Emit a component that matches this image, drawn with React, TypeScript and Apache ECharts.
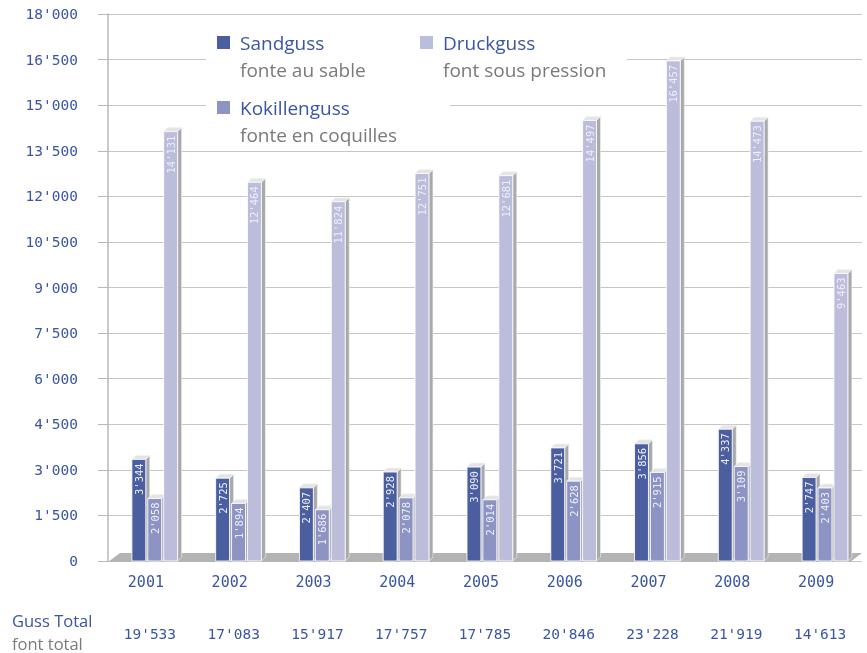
import React, { useEffect, useRef } from "react";
import * as echarts from "echarts";

const years = ["2001", "2002", "2003", "2004", "2005", "2006", "2007", "2008", "2009"];
const sandguss = [3344, 2725, 2407, 2928, 3090, 3721, 3856, 4337, 2747];
const kokillenguss = [2058, 1894, 1686, 2078, 2014, 2628, 2915, 3109, 2403];
const druckguss = [14131, 12464, 11824, 12751, 12681, 14497, 16457, 14473, 9463];

const seriesNames = ["Sandguss", "Kokillenguss", "Druckguss"];
const seriesSub = ["fonte au sable", "fonte en coquilles", "font sous pression"];
const colors = ["#4b5e9f", "#8d93c2", "#bbbddb"];

const fmt = (n: number) => String(n).replace(/\B(?=(\d{3})+(?!\d))/g, "'");

const BLUE = "#3a55a2";
const GREY_TXT = "#7a7a7a";
const DIGI = "'DejaVu Sans Mono', monospace";
const SANS = "'Open Sans', 'Noto Sans', sans-serif";

const G_LEFT = 108;
const G_RIGHT = 5;
const G_TOP = 14;
const G_BOTTOM = 92;

export default function App() {
  const ref = useRef<HTMLDivElement>(null);
  useEffect(() => {
    if (!ref.current) return;
    const chart = echarts.init(ref.current, null, { renderer: "svg" });
    const totals = years.map((_, i) => fmt(sandguss[i] + kokillenguss[i] + druckguss[i]));
    const all = [sandguss, kokillenguss, druckguss];

    const makeSeries = (idx: number) => ({
      type: "custom",
      name: seriesNames[idx],
      z: 10,
      data: all[idx].map((v, i) => [i, v]),
      encode: { x: 0, y: 1 },
      renderItem: (params: any, api: any) => {
        const cat = api.value(0);
        const val = api.value(1);
        const base = api.coord([cat, 0]);
        const top = api.coord([cat, val]);
        const catW = api.size([1, 0])[0];
        const pitch = catW * 0.19;
        const w = pitch - 2;
        const d = 4;
        const left = base[0] - catW * 0.215 + idx * pitch;
        const right = left + w;
        const y0 = top[1];
        const y1 = base[1];
        return {
          type: "group",
          children: [
            {
              type: "polygon",
              shape: { points: [[right, y0], [right + d, y0 - d], [right + d, y1 - d], [right, y1]] },
              style: { fill: "#a9a9a9", stroke: "#f4f4f4", lineWidth: 0.6 },
            },
            {
              type: "polygon",
              shape: { points: [[left, y0], [left + d, y0 - d], [right + d, y0 - d], [right, y0]] },
              style: { fill: "#e4e4e4", stroke: "#f4f4f4", lineWidth: 0.6 },
            },
            {
              type: "rect",
              shape: { x: left, y: y0, width: w, height: y1 - y0 },
              style: { fill: colors[idx], stroke: "rgba(255,255,255,0.85)", lineWidth: 1 },
            },
            {
              type: "text",
              x: left + w / 2,
              y: y0 + 4,
              rotation: Math.PI / 2,
              style: {
                text: fmt(val),
                fill: "#eef0f8",
                fontSize: 10.5,
                fontFamily: DIGI,
                align: "right",
                verticalAlign: "middle",
              },
            },
          ],
        };
      },
    });

    const legendItems: any[] = [];
    const pos = [
      [217, 43],
      [217, 108],
      [420, 43],
    ];
    pos.forEach((p, i) => {
      legendItems.push(
        { type: "rect", shape: { x: p[0], y: p[1] - 7, width: 13, height: 13 }, style: { fill: colors[i] }, z: 6 },
        {
          type: "text",
          x: p[0] + 23,
          y: p[1],
          style: { text: seriesNames[i], fill: BLUE, fontSize: 19, fontFamily: SANS, verticalAlign: "middle" },
          z: 6,
        },
        {
          type: "text",
          x: p[0] + 23,
          y: p[1] + 27,
          style: { text: seriesSub[i], fill: GREY_TXT, fontSize: 19, fontFamily: SANS, verticalAlign: "middle" },
          z: 6,
        }
      );
    });

    const floorY = 653 - G_BOTTOM;
    const floorRight = 867 - G_RIGHT;

    chart.setOption({
      animation: false,
      grid: { left: G_LEFT, right: G_RIGHT, top: G_TOP, bottom: G_BOTTOM },
      xAxis: [
        {
          type: "category",
          data: years,
          axisLine: { show: false },
          axisTick: { show: false },
          axisLabel: { color: BLUE, fontFamily: DIGI, fontSize: 15, margin: 13, padding: [0, 8, 0, 0] },
        },
        {
          type: "category",
          position: "bottom",
          offset: 52,
          data: totals,
          axisLine: { show: false },
          axisTick: { show: false },
          axisLabel: { color: BLUE, fontFamily: DIGI, fontSize: 14.5, margin: 13 },
        },
      ],
      yAxis: {
        type: "value",
        min: 0,
        max: 18000,
        interval: 1500,
        axisLine: { show: true, lineStyle: { color: "#b9b9b9", width: 1.5 } },
        axisTick: { show: true, length: 10, lineStyle: { color: "#b9b9b9" } },
        splitLine: { lineStyle: { color: "#c6c6c6", width: 1 } },
        axisLabel: { color: BLUE, fontFamily: DIGI, fontSize: 14.5, margin: 30, formatter: (v: number) => fmt(v) },
      },
      graphic: [
        {
          type: "polygon",
          z: 3,
          shape: {
            points: [
              [G_LEFT, floorY + 1],
              [floorRight - 12, floorY + 1],
              [floorRight, floorY - 8],
              [G_LEFT + 12, floorY - 8],
            ],
          },
          style: { fill: "#b3b3b3" },
        },
        { type: "rect", z: 5, shape: { x: 206, y: 28, width: 421, height: 58 }, style: { fill: "#ffffff" } },
        { type: "rect", z: 5, shape: { x: 206, y: 93, width: 244, height: 58 }, style: { fill: "#ffffff" } },
        ...legendItems,
        {
          type: "text",
          z: 6,
          x: 12,
          y: 620,
          style: { text: "Guss Total", fill: BLUE, fontSize: 16.5, fontFamily: SANS, verticalAlign: "middle" },
        },
        {
          type: "text",
          z: 6,
          x: 12,
          y: 643,
          style: { text: "font total", fill: GREY_TXT, fontSize: 16.5, fontFamily: SANS, verticalAlign: "middle" },
        },
      ],
      series: [makeSeries(0), makeSeries(1), makeSeries(2)],
    });
    return () => chart.dispose();
  }, []);
  return <div ref={ref} style={{ position: "fixed", left: 0, top: 0, width: 867, height: 653 }} />;
}
